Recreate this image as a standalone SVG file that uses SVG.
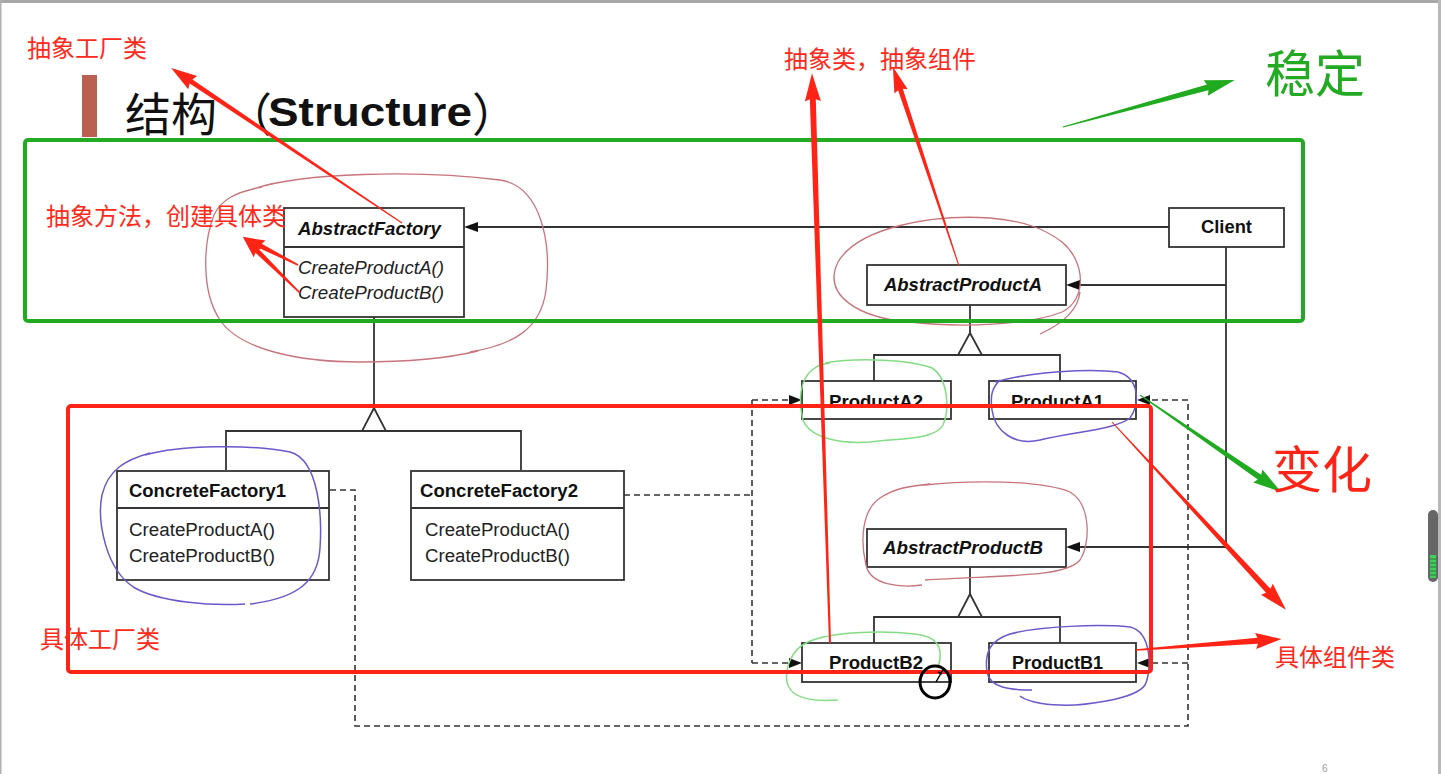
<svg xmlns="http://www.w3.org/2000/svg" width="1441" height="774" viewBox="0 0 1441 774">
<defs>
<style>
.box{fill:#fff;stroke:#333;stroke-width:1.8}
.ln{fill:none;stroke:#333;stroke-width:1.8}
.dash{fill:none;stroke:#333;stroke-width:1.6;stroke-dasharray:6,4}
.head{fill:#111;stroke:none}
.tri{fill:#fff;stroke:#333;stroke-width:1.8}
.b{font-family:"Liberation Sans",Arial,sans-serif;font-weight:bold;font-size:18px;fill:#111}
.bi{font-family:"Liberation Sans",Arial,sans-serif;font-weight:bold;font-style:italic;font-size:18px;fill:#111}
.r{font-family:"Liberation Sans",Arial,sans-serif;font-size:18px;fill:#222}
.ri{font-family:"Liberation Sans",Arial,sans-serif;font-style:italic;font-size:18px;fill:#222}
.ann{font-family:"Noto Sans CJK SC","Liberation Sans",sans-serif;font-size:24px;fill:#ff2a1a}
.pink{fill:none;stroke:#c8747c;stroke-width:1.3}
.lgreen{fill:none;stroke:#84dc84;stroke-width:1.5}
.purple{fill:none;stroke:#6a58cc;stroke-width:1.5}
.redarr{fill:#ff2416}
.grnarr{fill:#1faa1f}
</style>
</defs>
<rect x="0" y="0" width="1441" height="774" fill="#fff"/>
<rect x="0" y="0" width="1441" height="3" fill="#a8a8a8"/>
<rect x="0" y="0" width="1.5" height="774" fill="#b0b0b0"/>
<rect x="1438" y="0" width="3" height="774" fill="#b8b8b8"/>

<!-- title -->
<g id="title">
<rect x="82" y="75" width="15" height="62" fill="#bb6050"/>
<text x="125" y="131" font-family="Noto Sans CJK SC,sans-serif" font-size="46" fill="#111">结构</text>
<text x="226" y="131" font-family="Noto Sans CJK SC,sans-serif" font-size="46" fill="#111">（</text>
<text x="268" y="126" font-family="Liberation Sans,Arial,sans-serif" font-weight="bold" font-size="41" fill="#111" textLength="204" lengthAdjust="spacingAndGlyphs">Structure</text>
<text x="472" y="131" font-family="Noto Sans CJK SC,sans-serif" font-size="46" fill="#111">）</text>
</g>

<!-- connectors -->
<g id="connectors">
<line class="ln" x1="1169" y1="227" x2="476" y2="227"/>
<polygon class="head" points="464,227 478,222 478,232"/>
<line class="ln" x1="1226" y1="247" x2="1226" y2="547"/>
<line class="ln" x1="1226" y1="285" x2="1078" y2="285"/>
<polygon class="head" points="1066,285 1080,280 1080,290"/>
<line class="ln" x1="1226" y1="547" x2="1078" y2="547"/>
<polygon class="head" points="1066,547 1080,542 1080,552"/>

<line class="ln" x1="374" y1="317" x2="374" y2="408"/>
<polyline class="ln" points="226,470 226,431 521,431 521,470"/>
<polygon class="tri" points="374,408 362,431 386,431"/>

<line class="ln" x1="970" y1="305" x2="970" y2="333"/>
<polyline class="ln" points="874,381 874,355 1060,355 1060,381"/>
<polygon class="tri" points="970,333 958,355 982,355"/>

<line class="ln" x1="970" y1="567" x2="970" y2="594"/>
<polyline class="ln" points="874,643 874,617 1060,617 1060,643"/>
<polygon class="tri" points="970,594 958,617 982,617"/>

<path class="dash" d="M330,490 H355 V726 H1188 V400 H1150"/>
<polygon class="head" points="1137,400 1150,395 1150,405"/>
<path class="dash" d="M1188,663 H1150"/>
<polygon class="head" points="1137,663 1150,658 1150,668"/>
<path class="dash" d="M624,495 H752"/>
<path class="dash" d="M752,400 V663"/>
<path class="dash" d="M752,400 H790"/>
<polygon class="head" points="802,400 789,395 789,405"/>
<path class="dash" d="M752,663 H790"/>
<polygon class="head" points="802,663 789,658 789,668"/>
</g>

<!-- nodes -->
<g id="AbstractFactory">
<rect class="box" x="284" y="208" width="180" height="109"/>
<line class="ln" x1="284" y1="247" x2="464" y2="247"/>
<text class="bi" x="298" y="235" textLength="143" lengthAdjust="spacingAndGlyphs">AbstractFactory</text>
<text class="ri" x="298" y="274" textLength="146" lengthAdjust="spacingAndGlyphs">CreateProductA()</text>
<text class="ri" x="298" y="299" textLength="146" lengthAdjust="spacingAndGlyphs">CreateProductB()</text>
</g>
<g id="Client">
<rect class="box" x="1169" y="208" width="115" height="39"/>
<text class="b" x="1201" y="233" textLength="51" lengthAdjust="spacingAndGlyphs">Client</text>
</g>
<g id="AbstractProductA">
<rect class="box" x="867" y="265" width="199" height="40"/>
<text class="bi" x="884" y="291" textLength="158" lengthAdjust="spacingAndGlyphs">AbstractProductA</text>
</g>
<g id="ProductA2">
<rect class="box" x="802" y="381" width="149" height="38"/>
<text class="b" x="829" y="408" textLength="94" lengthAdjust="spacingAndGlyphs">ProductA2</text>
</g>
<g id="ProductA1">
<rect class="box" x="989" y="381" width="147" height="38"/>
<text class="b" x="1011" y="408" textLength="93" lengthAdjust="spacingAndGlyphs">ProductA1</text>
</g>
<g id="AbstractProductB">
<rect class="box" x="867" y="529" width="199" height="38"/>
<text class="bi" x="883" y="554" textLength="160" lengthAdjust="spacingAndGlyphs">AbstractProductB</text>
</g>
<g id="ProductB2">
<rect class="box" x="802" y="643" width="149" height="39"/>
<text class="b" x="829" y="669" textLength="94" lengthAdjust="spacingAndGlyphs">ProductB2</text>
</g>
<g id="ProductB1">
<rect class="box" x="989" y="643" width="147" height="39"/>
<text class="b" x="1012" y="669" textLength="91" lengthAdjust="spacingAndGlyphs">ProductB1</text>
</g>
<g id="ConcreteFactory1">
<rect class="box" x="117" y="471" width="212" height="109"/>
<line class="ln" x1="117" y1="508" x2="329" y2="508"/>
<text class="b" x="129" y="497" textLength="157" lengthAdjust="spacingAndGlyphs">ConcreteFactory1</text>
<text class="r" x="129" y="536" textLength="146" lengthAdjust="spacingAndGlyphs">CreateProductA()</text>
<text class="r" x="129" y="562" textLength="146" lengthAdjust="spacingAndGlyphs">CreateProductB()</text>
</g>
<g id="ConcreteFactory2">
<rect class="box" x="411" y="471" width="213" height="109"/>
<line class="ln" x1="411" y1="508" x2="624" y2="508"/>
<text class="b" x="420" y="497" textLength="158" lengthAdjust="spacingAndGlyphs">ConcreteFactory2</text>
<text class="r" x="425" y="536" textLength="145" lengthAdjust="spacingAndGlyphs">CreateProductA()</text>
<text class="r" x="425" y="562" textLength="145" lengthAdjust="spacingAndGlyphs">CreateProductB()</text>
</g>

<!-- hand-drawn loops -->
<g id="loops">
<path class="pink" d="M250,190 C300,172 420,170 500,180 C540,186 552,240 546,290 C541,330 512,345 470,352 M478,351 C440,360 400,362 360,362 C300,362 240,350 220,320 C200,290 204,240 214,215 C221,200 235,192 262,187"/>
<path class="pink" d="M990,218 C930,214 858,228 838,262 C822,295 858,318 910,322 C960,328 1030,325 1062,312 C1087,300 1086,262 1062,242 C1045,229 1025,221 990,218 M1080,292 C1078,310 1062,324 1040,334"/>
<path class="pink" d="M925,485 C970,480 1040,480 1070,492 C1092,505 1090,545 1080,560 C1065,578 1000,575 925,580 M922,585 C900,588 870,585 866,565 C860,540 862,510 880,498 C895,488 910,486 930,484"/>
<path class="lgreen" d="M825,363 C860,357 910,360 932,368 C948,378 950,410 943,425 C935,440 900,438 870,442 C840,444 810,438 803,420 C798,400 800,380 812,370 C818,365 822,364 830,363"/>
<path class="purple" d="M995,382 C1030,372 1090,368 1118,372 C1140,378 1140,405 1130,418 C1115,430 1070,432 1040,440 C1015,446 995,432 992,410 C990,395 992,388 1000,380"/>
<path class="lgreen" d="M938,668 C945,645 935,636 915,634 C880,630 830,632 808,642 C790,650 785,670 787,682 C790,698 810,702 838,700"/>
<path class="purple" d="M1032,690 C1010,690 990,688 987,672 C984,650 992,640 1010,634 C1040,626 1100,624 1130,627 C1152,632 1152,670 1145,685 C1135,700 1080,706 1060,705 C1040,705 1025,700 1020,696"/>
<path class="purple" d="M145,455 C180,445 250,444 290,452 C320,460 322,520 320,548 C318,580 300,598 250,604 M245,604 C210,606 160,602 135,588 C105,570 97,520 102,495 C108,470 125,460 150,453"/>
</g>

<!-- frames -->
<g id="stable-frame">
<rect x="25" y="140" width="1278" height="181" rx="3" fill="none" stroke="#22aa22" stroke-width="4"/>
</g>
<g id="change-frame">
<rect x="68" y="406" width="1083" height="266" rx="3" fill="none" stroke="#ff2416" stroke-width="4"/>
</g>

<!-- annotation arrows -->
<g id="annotation-arrows">
<path class="redarr" transform="translate(402,223) rotate(-146.14)" d="M0,-0.5 L254,-2.5 L252,-8 L278,0 L252,8 L254,2.5 L0,0.5Z"/>
<path class="redarr" transform="translate(298,265) rotate(-153)" d="M0,-0.8 L42,-2.5 L40,-7 L62,0 L40,7 L42,2.5 L0,0.8Z"/>
<path class="redarr" transform="translate(300,293) rotate(-135.5)" d="M0,-0.8 L60,-2.5 L58,-7 L80,0 L58,7 L60,2.5 L0,0.8Z"/>
<path class="redarr" transform="translate(830,643) rotate(-91.81)" d="M0,-1 L544,-3 L542,-8 L570,0 L542,8 L544,3 L0,1Z"/>
<path class="redarr" transform="translate(959,266) rotate(-108.35)" d="M0,-0.5 L186,-2.5 L184,-7 L210,0 L184,7 L186,2.5 L0,0.5Z"/>
<path class="grnarr" transform="translate(1063,127) rotate(-15.28)" d="M0,-0.5 L150,-3 L148,-8 L178,0 L148,8 L150,3 L0,0.5Z"/>
<path class="grnarr" transform="translate(1140,395) rotate(34.5)" d="M0,-0.5 L145,-3 L143,-8 L171,0 L143,8 L145,3 L0,0.5Z"/>
<path class="redarr" transform="translate(1112,422) rotate(47.2)" d="M0,-0.5 L230,-3 L228,-8 L256,0 L228,8 L230,3 L0,0.5Z"/>
<path class="redarr" transform="translate(1136,650) rotate(-4.31)" d="M0,-0.8 L122,-3 L120,-8 L146,0 L120,8 L122,3 L0,0.8Z"/>
</g>

<!-- annotation texts -->
<g id="annotations">
<text class="ann" x="27" y="57">抽象工厂类</text>
<text class="ann" x="46" y="225">抽象方法，创建具体类</text>
<text class="ann" x="784" y="68">抽象类，抽象组件</text>
<text class="ann" x="40" y="648">具体工厂类</text>
<text class="ann" x="1275" y="666">具体组件类</text>
<text x="1265" y="92" font-family="Noto Sans CJK SC,sans-serif" font-size="50" fill="#22aa22">稳定</text>
<text x="1272" y="488" font-family="Noto Sans CJK SC,sans-serif" font-size="50" fill="#ff2416">变化</text>
</g>

<!-- cursor -->
<g id="cursor">
<ellipse cx="935" cy="682" rx="15" ry="16" fill="none" stroke="#000" stroke-width="3"/>
<path d="M936,682 L944,668 M938,672 L942,674" fill="none" stroke="#000" stroke-width="1.5"/>
</g>

<!-- scrollbar & page number -->
<g id="scrollbar">
<rect x="1428" y="510" width="10" height="72" rx="5" fill="#666"/>
<rect x="1430" y="555" width="6" height="23" fill="#3fcf5a"/>
<path d="M1430,559 H1436 M1430,563 H1436 M1430,567 H1436 M1430,571 H1436 M1430,575 H1436" stroke="#2a7a3a" stroke-width="1"/>
</g>
<text x="1322" y="772" font-family="Liberation Sans,Arial,sans-serif" font-size="10" fill="#999">6</text>
</svg>
